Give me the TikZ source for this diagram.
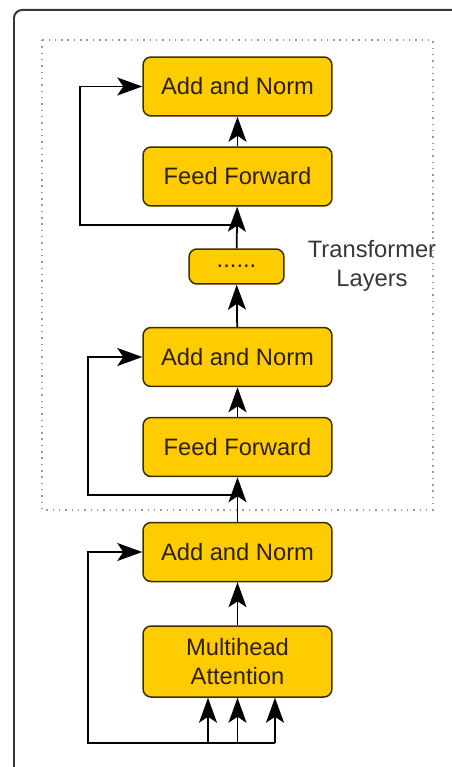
\documentclass[tikz,border=0pt]{standalone}
\usepackage{fontspec}
\setmainfont{Liberation Sans}
\usetikzlibrary{arrows.meta}
\definecolor{boxfill}{RGB}{255,204,0}
\definecolor{boxline}{RGB}{60,45,0}
\definecolor{boxtext}{RGB}{45,32,0}
\definecolor{framegray}{RGB}{55,55,55}
\begin{document}
\begin{tikzpicture}[x=0.02cm, y=-0.02cm,
layer/.style={draw=boxline, fill=boxfill, rounded corners=0.16cm, line width=0.03cm,
  minimum width=3.78cm, minimum height=1.18cm, inner sep=0pt, text=boxtext,
  font=\fontsize{13.5}{16.5}\selectfont, align=center},
link/.style={line width=0.035cm, -{Stealth[length=0.5cm, width=0.36cm, inset=0.12cm]}},
wire/.style={line width=0.035cm}]
\useasboundingbox (0,0) rectangle (452,767);
\clip (0,0) rectangle (452,767);
% outer frame and layer group
\draw[framegray, line width=0.04cm, rounded corners=0.16cm] (14,10) rectangle (480,800);
\draw[gray!80, line width=0.03cm, dash pattern=on 0.8pt off 2.8pt] (42,40) rectangle (433,510);
\node[text=framegray, font=\fontsize{13.5}{16.5}\selectfont, align=center] (group) at (372,266) {Transformer\\Layers};
% boxes
\node[layer] (an1) at (237.5,86.5) {Add and Norm};
\node[layer] (ff1) at (237.5,176.5) {Feed Forward};
\node[layer, minimum width=1.9cm, minimum height=0.7cm] (dots) at (236.5,266.5) {......};
\node[layer] (an2) at (237.5,357) {Add and Norm};
\node[layer] (ff2) at (237.5,447) {Feed Forward};
\node[layer] (an3) at (237.5,552) {Add and Norm};
\node[layer, minimum height=1.42cm] (mha) at (237.5,661.5) {Multihead\\Attention};
% branch points
\coordinate (j1) at (237.5,225);
\coordinate (j2) at (237.5,495);
\coordinate (in) at (237.5,743);
% main flow
\draw[link] (ff1) -- (an1);
\draw[link] (dots) -- (ff1);
\draw[link] (an2) -- (dots);
\draw[link] (ff2) -- (an2);
\draw[link] (an3) -- (ff2);
\draw[link] (mha) -- (an3);
% residuals
\draw[link] (j1) -| (80,86.5) -- (an1.west);
\draw[link] (j2) -| (88,357) -- (an2.west);
\draw[link] (275,743) -| (88,552) -- (an3.west);
% inputs
\draw[link] (208,743) -- (mha.south -| 208,0);
\draw[link] (in) -- (mha.south);
\draw[link] (275,743) -- (mha.south -| 275,0);
\end{tikzpicture}
\end{document}
